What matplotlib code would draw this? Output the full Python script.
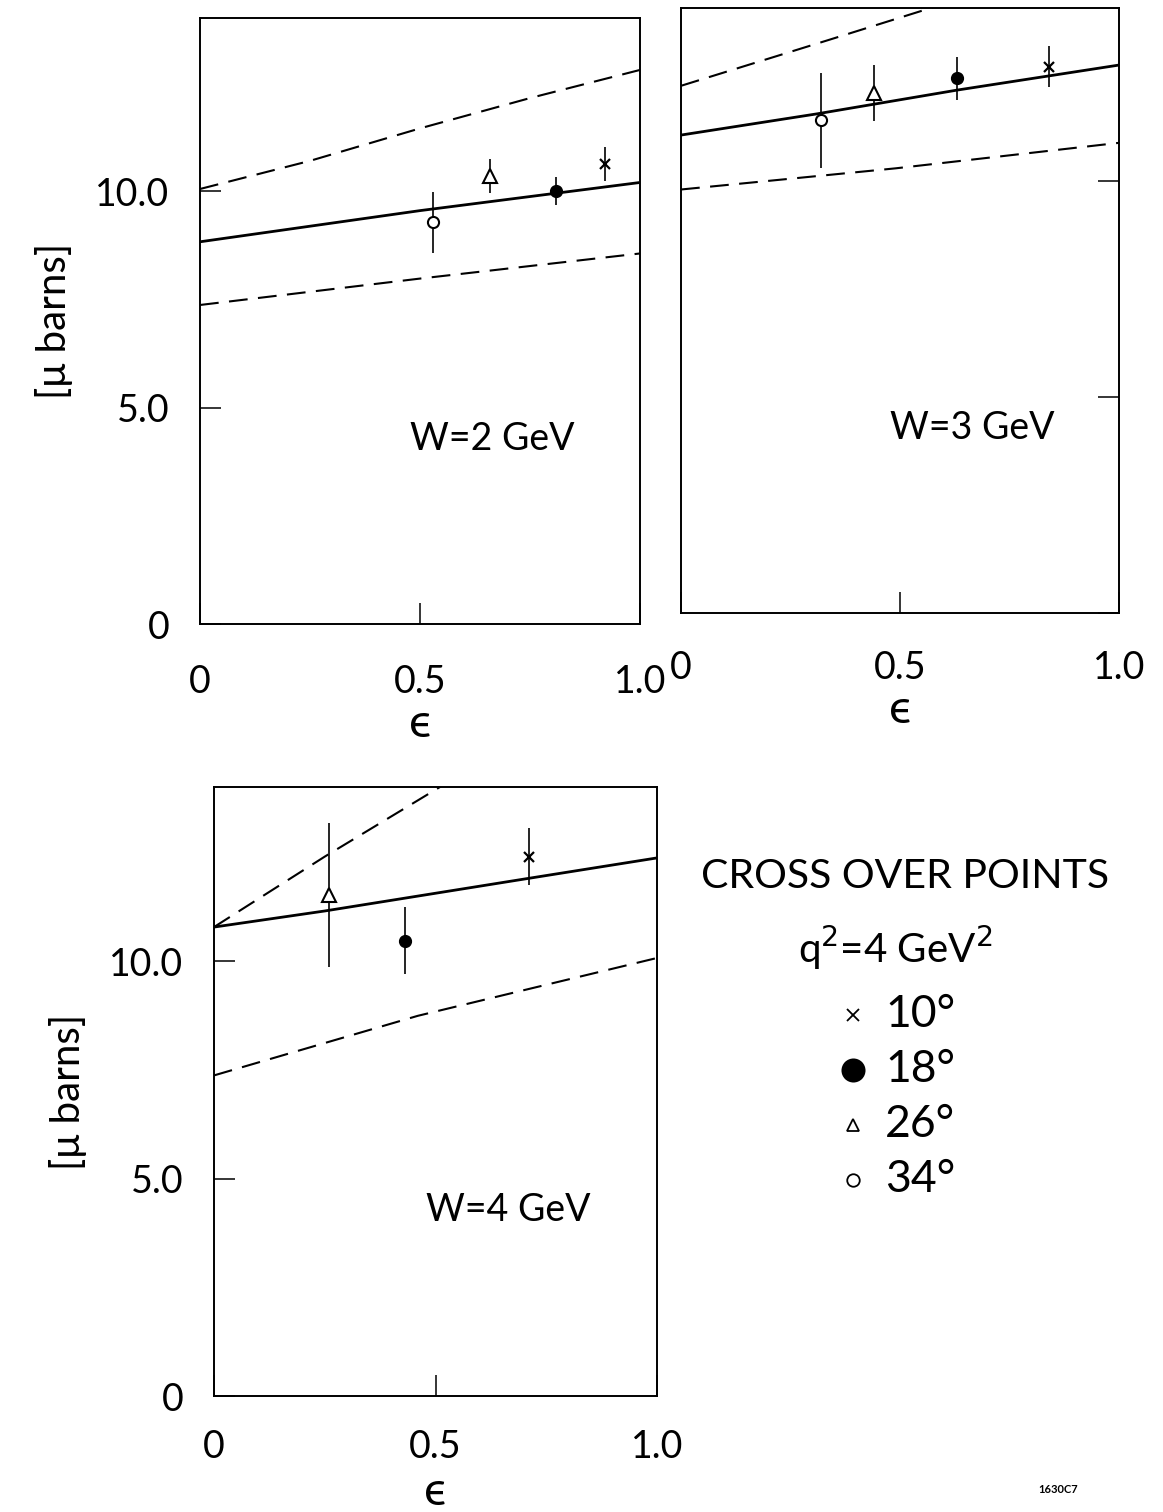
import matplotlib.pyplot as plt

plt.rcParams['font.family'] = ['Lato', 'DejaVu Sans']

# cross over points, q^2 = 4 GeV^2, order of angles: 10, 18, 26, 34 deg
angles = ['10°', '18°', '26°', '34°']

eps_w2 = [0.92, 0.81, 0.66, 0.53]
sig_w2 = [10.63, 10.0, 10.35, 9.28]
err_w2 = [0.4, 0.33, 0.4, 0.7]

eps_w3 = [0.84, 0.63, 0.44, 0.32]
sig_w3 = [12.64, 12.37, 12.03, 11.4]
err_w3 = [0.47, 0.5, 0.65, 1.1]

eps_w4 = [0.71, 0.43, 0.26]
sig_w4 = [12.4, 10.47, 11.52]
err_w4 = [0.65, 0.77, 1.65]

# curves: solid = central, dashed = upper / lower
cen_eps_w2 = [0, 0.5, 1.0]
cen_w2 = [8.83, 9.55, 10.2]
up_eps_w2 = [0, 0.25, 0.5, 0.75, 1.0]
up_w2 = [10.05, 10.7, 11.45, 12.15, 12.8]
lo_eps_w2 = [0, 0.5, 1.0]
lo_w2 = [7.37, 7.98, 8.56]

cen_eps_w3 = [0, 0.31, 0.63, 1.0]
cen_w3 = [11.06, 11.55, 12.1, 12.68]
up_eps_w3 = [0, 0.34, 0.57, 1.0]
up_w3 = [12.2, 13.27, 14.0, 15.4]
lo_eps_w3 = [0, 0.49, 1.0]
lo_w3 = [9.8, 10.29, 10.88]

cen_eps_w4 = [0, 0.25, 0.71, 1.0]
cen_w4 = [10.78, 11.15, 11.9, 12.37]
up_eps_w4 = [0, 0.25, 0.51, 1.0]
up_w4 = [10.78, 12.4, 14.0, 17.1]
lo_eps_w4 = [0, 0.46, 1.0]
lo_w4 = [7.37, 8.74, 10.07]

xticks = [0, 0.5, 1.0]
xticklabels = ['0', '0.5', '1.0']
yticks = [0, 5, 10]
yticklabels = ['0', '5.0', '10.0']

styles = {
    '10°': dict(marker='x', ms=7, mec='k', mew=1.6),
    '18°': dict(marker='o', ms=8.5, mfc='k', mec='k'),
    '26°': dict(marker='^', ms=10, mfc='w', mec='k', mew=1.5),
    '34°': dict(marker='o', ms=8, mfc='w', mec='k', mew=1.5),
}

fig = plt.figure(figsize=(11.63, 15.12), dpi=100)

ax1 = fig.add_axes([0.172, 0.5873, 0.3783, 0.4008])
ax2 = fig.add_axes([0.5856, 0.5946, 0.3766, 0.4001])
ax3 = fig.add_axes([0.184, 0.0767, 0.381, 0.4028])

panels = [
    (ax1, eps_w2, sig_w2, err_w2, cen_eps_w2, cen_w2, up_eps_w2, up_w2, lo_eps_w2, lo_w2, 'W=2 GeV', 29, 2),
    (ax2, eps_w3, sig_w3, err_w3, cen_eps_w3, cen_w3, up_eps_w3, up_w3, lo_eps_w3, lo_w3, 'W=3 GeV', 27, 2),
    (ax3, eps_w4, sig_w4, err_w4, cen_eps_w4, cen_w4, up_eps_w4, up_w4, lo_eps_w4, lo_w4, 'W=4 GeV', 24, 4),
]

for ax, e, s, err, ce, c, ue, u, le, l, wlab, xpad, lpad in panels:
    ax.plot(ce, c, color='k', lw=2.0)
    ax.plot(ue, u, color='k', lw=1.5, dashes=(9, 5))
    ax.plot(le, l, color='k', lw=1.5, dashes=(9, 5))
    ax.errorbar(e, s, yerr=err, fmt='none', ecolor='k', elinewidth=1.2, zorder=3)
    for i in range(len(e)):
        ax.plot(e[i], s[i], ls='none', zorder=4, **styles[angles[i]])

    ax.set_xlim(0, 1.0)
    ax.set_ylim(0, 14)
    ax.set_xticks(xticks)
    ax.set_xticklabels(xticklabels)
    ax.set_yticks(yticks)
    ax.set_yticklabels(yticklabels)
    ax.tick_params(direction='in', length=15, width=1.1, labelsize=27, pad=xpad, axis='x')
    ax.tick_params(direction='in', length=15, width=1.1, labelsize=27, pad=22, axis='y')
    for sp in ax.spines.values():
        sp.set_linewidth(1.4)
    ax.set_xlabel('ϵ', fontsize=34, labelpad=lpad)
    ax.text(0.665, 0.305, wlab, transform=ax.transAxes, fontsize=27,
            ha='center', va='center')

ax1.set_ylabel('[μ barns]', fontsize=29, labelpad=16)
ax3.set_ylabel('[μ barns]', fontsize=29, labelpad=16)

ax2.yaxis.tick_right()
ax2.tick_params(axis='y', labelright=False)

# legend block
fig.text(0.778, 0.42, 'CROSS OVER POINTS', fontsize=29.5, ha='center', va='center')
fig.text(0.77, 0.373, 'q$^{2}$=4 GeV$^{2}$', fontsize=29, ha='center', va='center')

leg = fig.add_axes([0.70, 0.20, 0.25, 0.15])
leg.set_xlim(0, 1)
leg.set_ylim(0, 1)
leg.axis('off')
leg_y = [0.86, 0.617, 0.374, 0.132]
leg_ms = {'10°': 8, '18°': 16, '26°': 9, '34°': 9}
for i, a in enumerate(angles):
    st = dict(styles[a])
    st['ms'] = leg_ms[a]
    st['mew'] = 1.3
    leg.plot(0.135, leg_y[i], ls='none', clip_on=False, **st)
    leg.text(0.245, leg_y[i], a, fontsize=32, va='center', ha='left')

fig.text(0.91, 0.015, '1630C7', fontsize=8, weight='bold', ha='center', va='center')

fig.savefig('out.png', dpi=100)
